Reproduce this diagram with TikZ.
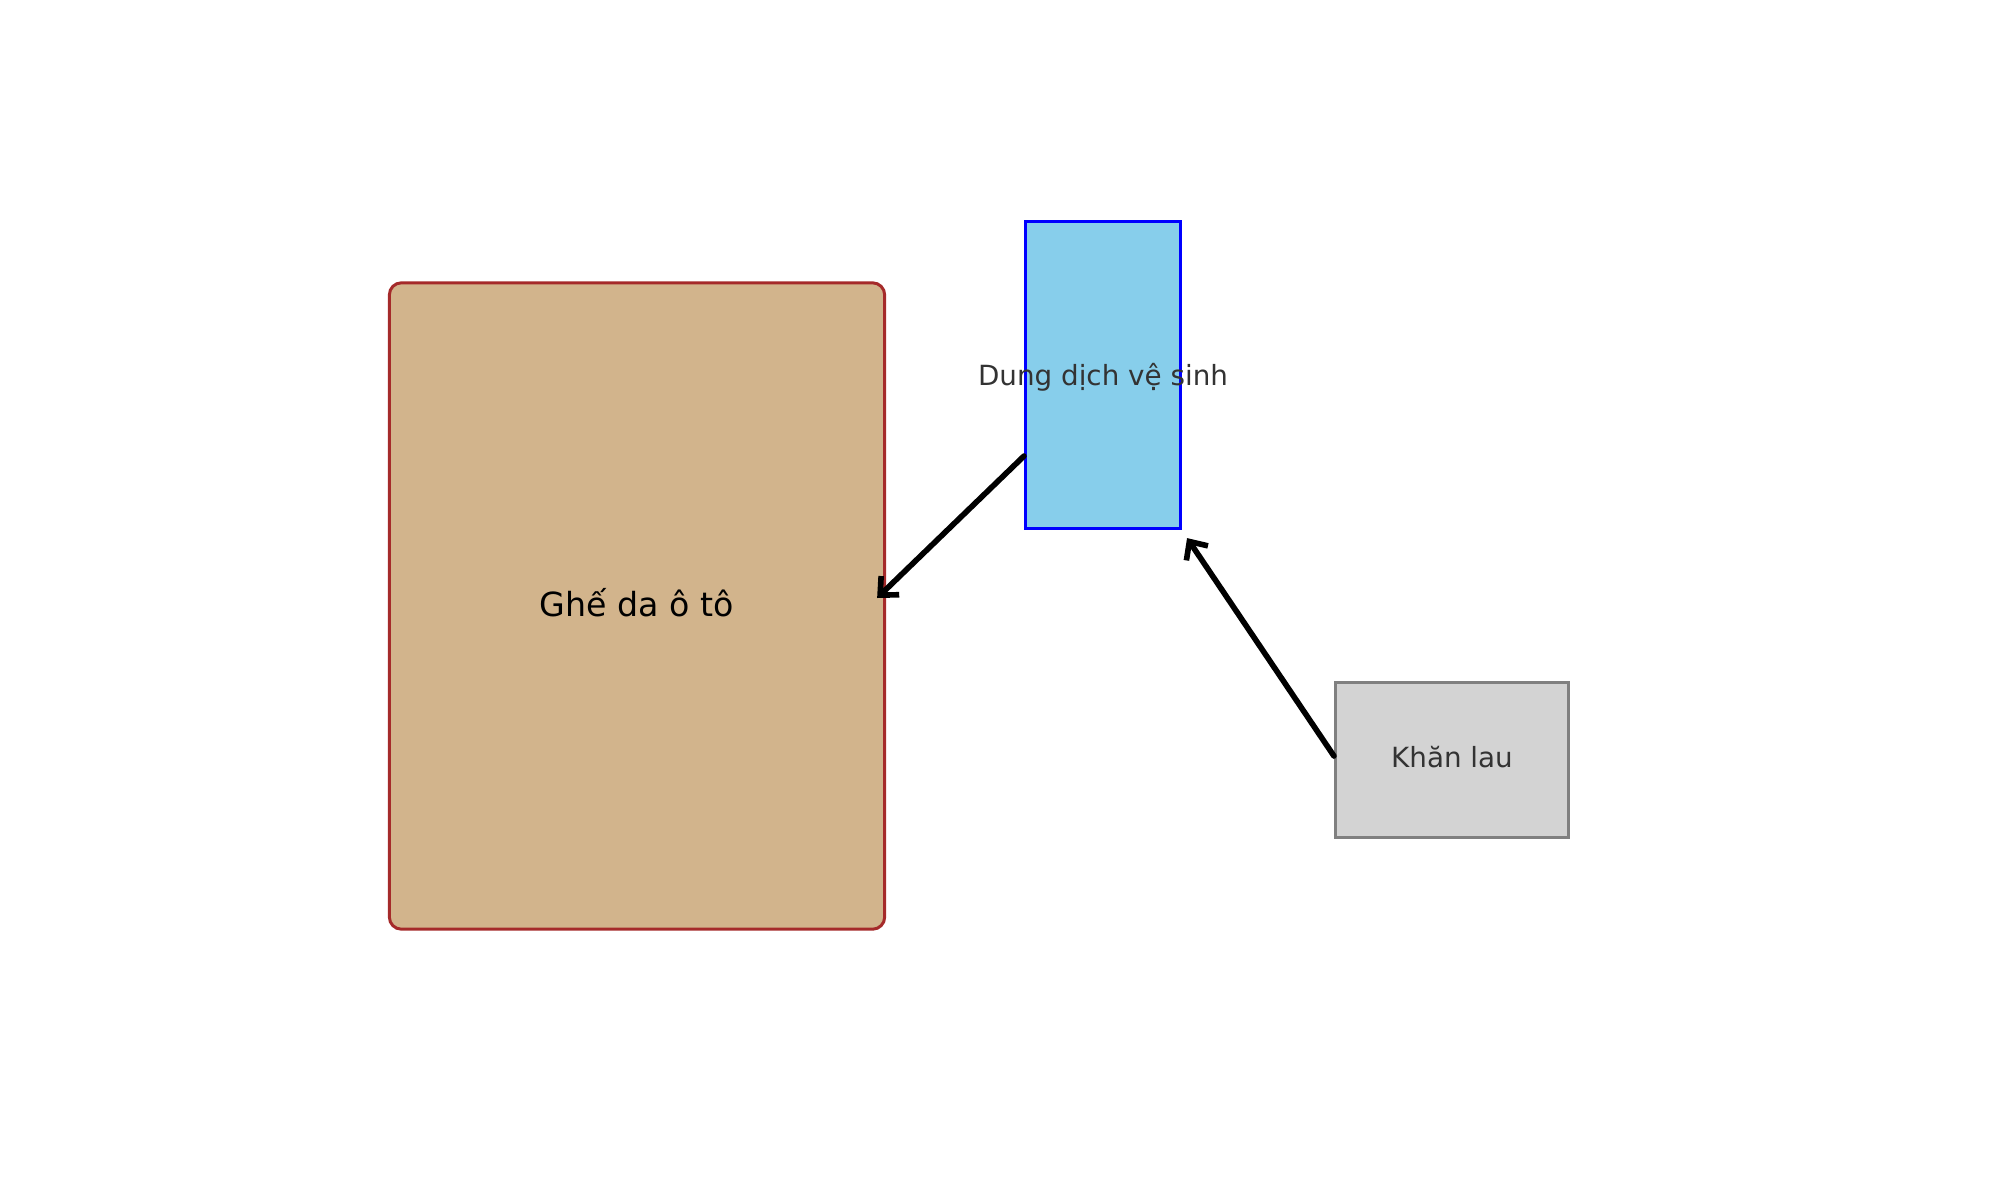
\documentclass[tikz,border=0pt]{standalone}
\usepackage{fontspec}
\setmainfont{DejaVu Sans}
\usetikzlibrary{arrows.meta}
\definecolor{seatfill}{HTML}{D2B48C}
\definecolor{seatdraw}{HTML}{A52A2A}
\definecolor{skyfill}{HTML}{87CEEB}
\definecolor{towelfill}{HTML}{D3D3D3}
\definecolor{towelline}{HTML}{808080}
\definecolor{txtgray}{HTML}{333333}
\tikzset{
  seatbox/.style={draw=seatdraw, fill=seatfill, line width=0.85pt, rounded corners=0.12cm,
    minimum width=4.95cm, minimum height=6.46cm, inner sep=0pt},
  liquidbox/.style={draw=blue, fill=skyfill, line width=0.85pt,
    minimum width=1.55cm, minimum height=3.07cm, inner sep=0pt},
  towelbox/.style={draw=towelline, fill=towelfill, line width=0.85pt,
    minimum width=2.33cm, minimum height=1.54cm, inner sep=0pt},
  conn/.style={line width=1.6pt, line cap=round, line join=round,
    -{Straight Barb[length=1.4mm, width=2.6mm, line width=1.6pt]}}
}
\begin{document}
\begin{tikzpicture}[x=0.01cm, y=-0.01cm]
\useasboundingbox (0,0) rectangle (2000,1200);
\node[seatbox] (seat) at (637,606) {};
\node[font=\fontsize{9.45pt}{11pt}\selectfont] (seatlabel) at (637,603) {Ghế da ô tô};
\node[liquidbox] (liquid) at (1103,375) {};
\node[text=txtgray, font=\fontsize{7.9pt}{9pt}\selectfont] (liquidlabel) at (1103,377) {Dung dịch vệ sinh};
\node[towelbox] (towel) at (1452,760) {};
\node[text=txtgray, font=\fontsize{7.9pt}{9pt}\selectfont] (towellabel) at (1452,757) {Khăn lau};
\draw[conn] ([yshift=-0.81cm]liquid.west) -- ([shift={(-0.09cm,0.08cm)}]seat.east);
\draw[conn] ([yshift=0.04cm]towel.west) -- ([shift={(0.05cm,-0.08cm)}]liquid.south east);
\end{tikzpicture}
\end{document}
